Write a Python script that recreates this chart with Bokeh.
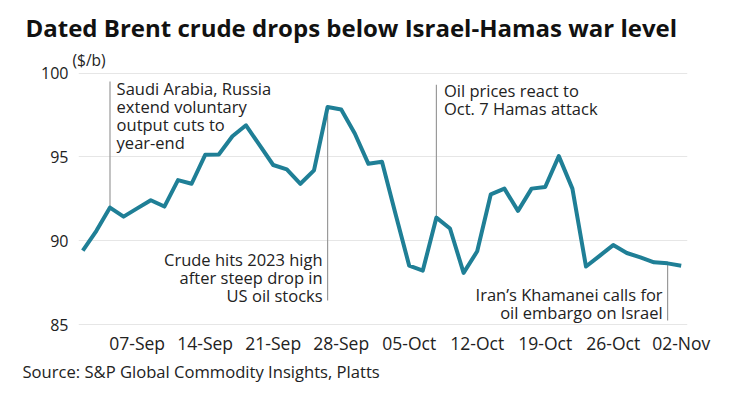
from bokeh.plotting import figure
from bokeh.models import Label, FixedTicker, Range1d, Title
from bokeh.embed import file_html
from bokeh.resources import INLINE

# ---- data (Dated Brent, $/b, business days) ----
dates = ["01-Sep", "04-Sep", "05-Sep", "06-Sep", "07-Sep", "08-Sep",
         "11-Sep", "12-Sep", "13-Sep", "14-Sep", "15-Sep",
         "18-Sep", "19-Sep", "20-Sep", "21-Sep", "22-Sep",
         "25-Sep", "26-Sep", "27-Sep", "28-Sep", "29-Sep",
         "02-Oct", "03-Oct", "04-Oct", "05-Oct", "06-Oct",
         "09-Oct", "10-Oct", "11-Oct", "12-Oct", "13-Oct",
         "16-Oct", "17-Oct", "18-Oct", "19-Oct", "20-Oct",
         "23-Oct", "24-Oct", "25-Oct", "26-Oct", "27-Oct",
         "30-Oct", "31-Oct", "01-Nov", "02-Nov"]
prices = [89.41, 90.59, 91.98, 91.44, 91.93, 92.42,
          92.04, 93.62, 93.40, 95.13, 95.15,
          96.24, 96.89, 95.70, 94.52, 94.26,
          93.40, 94.20, 97.98, 97.83, 96.40,
          94.59, 94.71, 91.58, 88.51, 88.22,
          91.38, 90.73, 88.08, 89.37, 92.77,
          93.11, 91.78, 93.11, 93.21, 95.05,
          93.11, 88.46, 89.10, 89.74, 89.27,
          89.01, 88.71, 88.65, 88.51]
tick_labels = ["07-Sep", "14-Sep", "21-Sep", "28-Sep", "05-Oct",
               "12-Oct", "19-Oct", "26-Oct", "02-Nov"]
y_ticks = [85, 90, 95, 100]

events = [
    ("05-Sep", ["Saudi Arabia, Russia", "extend voluntary", "output cuts to", "year-end"]),
    ("27-Sep", ["Crude hits 2023 high", "after steep drop in", "US oil stocks"]),
    ("09-Oct", ["Oil prices react to", "Oct. 7 Hamas attack"]),
    ("01-Nov", ["Iran\u2019s Khamanei calls for", "oil embargo on Israel"]),
]

title_text = "Dated Brent crude drops below Israel-Hamas war level"
unit_text = "($/b)"
source_text = "Source: S&P Global Commodity Insights, Platts"

# ---- layout (pixels) ----
W, H = 718, 390
FL, FR, FT, FB = 78, 687, 68, 327
XR = (-0.316, 44.463)
YR = (84.822, 100.22)

def vy(py):
    return YR[0] + (YR[1] - YR[0]) * (FB - py) / (FB - FT)

# per-event annotation style: (line end pixel y, text side, first/last text line centre, x offset)
ann_style = {
    "05-Sep": dict(end=80, side="up", first=86.7, dx=6.6),
    "27-Sep": dict(end=300, side="down", last=295, dx=-5),
    "09-Oct": dict(end=83.3, side="up", first=89.3, dx=7.6),
    "01-Nov": dict(end=320, side="down", last=311.7, dx=-5),
}

FONT = "Open Sans"
TEXT_COL = "#222222"
LINE_COL = "#1f7f96"
LEAD_COL = "#9a9a9a"

xs = list(range(len(dates)))

p = figure(width=W, height=H, output_backend="svg", toolbar_location=None,
           x_range=Range1d(*XR), y_range=Range1d(*YR),
           min_border_left=FL, min_border_right=W - FR,
           min_border_top=FT, min_border_bottom=H - FB)
p.outline_line_color = None
p.background_fill_color = "white"
p.border_fill_color = "white"

p.xgrid.grid_line_color = None
p.ygrid.grid_line_color = "#e6e6e6"
p.ygrid.grid_line_width = 1.2

p.yaxis.ticker = FixedTicker(ticks=y_ticks)
p.xaxis.ticker = FixedTicker(ticks=[dates.index(t) for t in tick_labels])
p.xaxis.major_label_overrides = {dates.index(t): t for t in tick_labels}
for ax in (p.xaxis[0], p.yaxis[0]):
    ax.axis_line_color = None
    ax.major_tick_line_color = None
    ax.minor_tick_line_color = None
    ax.major_tick_out = 0
    ax.major_tick_in = 0
    ax.major_label_text_font = FONT
    ax.major_label_text_font_size = "17.5px"
    ax.major_label_text_color = TEXT_COL
p.yaxis.major_label_text_font_size = "16px"
p.yaxis.major_label_standoff = 10
p.xaxis.major_label_standoff = 3

# annotation leader lines and texts
line_h = 18.3
for d, lines in events:
    i = dates.index(d)
    v = prices[i]
    st = ann_style[d]
    p.segment(x0=[i], y0=[v], x1=[i], y1=[vy(st["end"])], line_color=LEAD_COL, line_width=1.2)
    n = len(lines)
    for k, t in enumerate(lines):
        if st["side"] == "up":
            py = st["first"] + k * line_h
            align = "left"
        else:
            py = st["last"] - (n - 1 - k) * line_h
            align = "right"
        p.add_layout(Label(x=i, y=vy(py), text=t, x_offset=st["dx"],
                           text_align=align, text_baseline="middle",
                           text_font=FONT, text_font_size="16.5px", text_color=TEXT_COL))

p.line(xs, prices, line_color=LINE_COL, line_width=4, line_join="round")

# unit (nearest the frame), then main title, then a small spacer at the very top
p.add_layout(Title(text=unit_text, align="left", offset=72 - FL, standoff=-3.5,
                   text_font=FONT, text_font_size="15.5px", text_font_style="normal",
                   text_color=TEXT_COL), "above")
p.add_layout(Title(text=title_text, align="left", offset=25 - FL, standoff=9,
                   text_font=FONT, text_font_size="24px", text_font_style="bold",
                   text_color="#111111"), "above")
p.add_layout(Title(text=" ", align="left", standoff=0.9, text_font_size="1px"), "above")
# source below the x axis
p.add_layout(Title(text=source_text, align="left", offset=22 - FL, standoff=1,
                   text_font=FONT, text_font_size="16.6px", text_font_style="normal",
                   text_color=TEXT_COL), "below")

open("out.html", "w").write(file_html(p, INLINE))
